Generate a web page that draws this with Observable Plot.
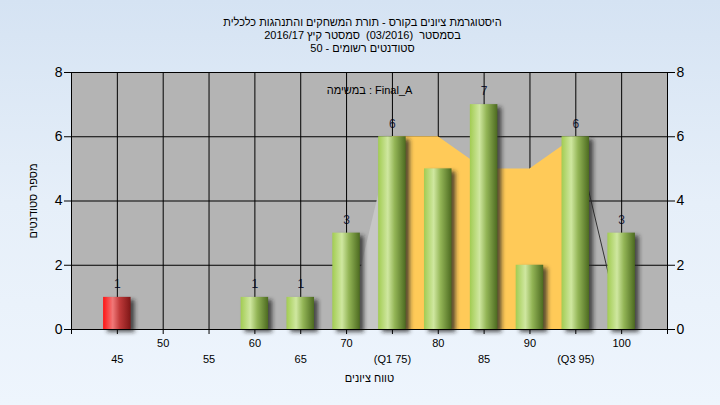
<!DOCTYPE html>
<html>
<head>
<meta charset="utf-8">
<script src="https://cdn.jsdelivr.net/npm/d3@7"></script>
<script src="https://cdn.jsdelivr.net/npm/@observablehq/plot@0.6"></script>
<style>
  html, body { margin: 0; padding: 0; }
  body { width: 720px; height: 405px; overflow: hidden;
         background: linear-gradient(to bottom, #d5e3f3 0%, #e6eff9 50%, #eef5fd 100%); }
  #chart svg { display: block; }
</style>
</head>
<body>
<div id="chart"></div>
<script>
// ---- data ----
const bins = [45, 50, 55, 60, 65, 70, 75, 80, 85, 90, 95, 100];
const counts = [1, 0, 0, 1, 1, 3, 6, 5, 7, 2, 6, 3];
const tickLabels = ["45", "50", "55", "60", "65", "70", "(Q1 75)", "80", "85", "90", "(Q3 95)", "100"];
const failBins = [45];
const iqrX = [75, 80, 85, 90, 95];
const iqrY = [6, 6, 5, 5, 6];
const leadX = [70, 75];
const leadY = [0, 6];
const tailX = [95, 100];
const tailY = [6, 0];
const yTicks = [0, 2, 4, 6, 8];
const xTicks = [40, 45, 50, 55, 60, 65, 70, 75, 80, 85, 90, 95, 100, 105];
const titleLines = [
  "היסטוגרמת ציונים בקורס - תורת המשחקים והתנהגות כלכלית",
  "בסמסטר  (03/2016)  סמסטר קיץ 2016/17",
  "סטודנטים רשומים - 50"
];
const taskLabel = "Final_A : במשימה";
const xTitle = "טווח ציונים";
const yTitle = "מספר סטודנטים";

const data = bins.map((b, i) => ({bin: b, count: counts[i], label: tickLabels[i], row: i % 2}));
const nonzero = data.filter(d => d.count > 0);

function defsMark() {
  const g = d3.create("svg:g");
  const defs = g.append("defs");
  const mk = (id, stops) => {
    const lg = defs.append("linearGradient").attr("id", id).attr("x1", 0).attr("x2", 1).attr("y1", 0).attr("y2", 0);
    stops.forEach(([o, c]) => lg.append("stop").attr("offset", o).attr("stop-color", c));
  };
  mk("gGreen", [[0, "#a2cc52"], [0.35, "#cfe7a0"], [0.6, "#93b556"], [1, "#4c6a20"]]);
  mk("gRed", [[0, "#ff1414"], [0.35, "#f07878"], [0.6, "#c03a3a"], [1, "#7e1616"]]);
  const f = defs.append("filter").attr("id", "shadowBlur").attr("x", "-50%").attr("y", "-50%").attr("width", "200%").attr("height", "200%");
  f.append("feGaussianBlur").attr("stdDeviation", 2);
  return g.node();
}

const font = "Liberation Sans, Arial, sans-serif";

const plot = Plot.plot({
  width: 720,
  height: 405,
  marginLeft: 71,
  marginRight: 53,
  marginTop: 72,
  marginBottom: 76,
  x: {domain: [40, 105]},
  y: {domain: [0, 8]},
  style: {background: "transparent", fontFamily: font, color: "#000"},
  marks: [
    defsMark,
    Plot.frame({fill: "#b4b4b4", stroke: null}),
    Plot.text(nonzero, {x: "bin", y: "count", text: d => String(d.count), dy: -13, fontSize: 12, fill: "#1c2340"}),
    Plot.ruleY([2, 4, 6, 8], {stroke: "#000", strokeWidth: 1}),
    Plot.ruleX(bins, {y1: 0, y2: 8, stroke: "#000", strokeWidth: 1}),
    Plot.ruleX([40, 105], {y1: 0, y2: 8, stroke: "#000", strokeWidth: 1}),
    Plot.areaY(leadX.map((x, i) => ({x, y: leadY[i]})), {x: "x", y: "y", fill: "#c6c6c6"}),
    Plot.areaY(iqrX.map((x, i) => ({x, y: iqrY[i]})), {x: "x", y: "y", fill: "#ffca58"}),
    Plot.line(tailX.map((x, i) => ({x, y: tailY[i]})), {x: "x", y: "y", stroke: "#333", strokeWidth: 1}),
    Plot.rectY(nonzero, {x1: d => d.bin - 1.5, x2: d => d.bin + 1.5, y: "count", fill: "#222", fillOpacity: 0.75, dx: 4, dy: 3, render: (i, s, v, d, c, next) => { const g = next(i, s, v, d, c); g.setAttribute("filter", "url(#shadowBlur)"); return g; }}),
    Plot.rectY(nonzero, {x1: d => d.bin - 1.5, x2: d => d.bin + 1.5, y: "count", fill: d => failBins.includes(d.bin) ? "url(#gRed)" : "url(#gGreen)"}),
    Plot.ruleY([0], {stroke: "#000", strokeWidth: 1}),
    Plot.axisY({anchor: "left", ticks: yTicks, tickSize: 7, tickPadding: 2, fontSize: 14, label: null}),
    Plot.axisY({anchor: "right", ticks: yTicks, tickSize: 7, tickPadding: 2, fontSize: 14, label: null}),
    Plot.axisX({ticks: xTicks, tickSize: 5, tickFormat: () => "", label: null}),
    Plot.text(data.filter(d => d.row === 1), {x: "bin", text: "label", frameAnchor: "bottom", dy: 17, fontSize: 11, fill: "#000"}),
    Plot.text(data.filter(d => d.row === 0), {x: "bin", text: "label", frameAnchor: "bottom", dy: 33, fontSize: 11, fill: "#000"}),
    Plot.text([xTitle], {frameAnchor: "bottom", dy: 52, fontSize: 11, fill: "#000"}),
    Plot.text([yTitle], {frameAnchor: "left", textAnchor: "middle", dx: -38, rotate: -90, fontSize: 11, fill: "#000"}),
    Plot.text([taskLabel], {frameAnchor: "top", dy: 14, fontSize: 11, fill: "#000"}),
    Plot.text([titleLines[0]], {frameAnchor: "top", dx: -7, dy: -54, fontSize: 11, fill: "#000"}),
    Plot.text([titleLines[1]], {frameAnchor: "top", dx: -7, dy: -41, fontSize: 11, fill: "#000"}),
    Plot.text([titleLines[2]], {frameAnchor: "top", dx: -7, dy: -28, fontSize: 11, fill: "#000"})
  ]
});

document.getElementById("chart").appendChild(plot);
d3.select(plot).selectAll("text").filter(function () {
  return /[\u0590-\u05FF]/.test(this.textContent);
}).attr("direction", "rtl").style("unicode-bidi", "embed");
</script>
</body>
</html>
